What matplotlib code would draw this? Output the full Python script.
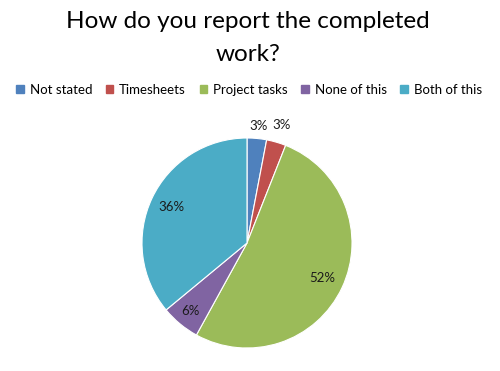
import matplotlib
matplotlib.use("Agg")
import matplotlib.pyplot as plt
import numpy as np

categories = ["Not stated", "Timesheets", "Project tasks", "None of this", "Both of this"]
values = [3, 3, 52, 6, 36]
colors = ["#4F81BD", "#C0504D", "#9BBB59", "#8064A2", "#4BACC6"]
title = "How do you report the completed\nwork?"

plt.rcParams['font.family'] = ['Lato', 'DejaVu Sans']

fig = plt.figure(figsize=(5.0, 3.71), dpi=100)
fig.patch.set_facecolor("white")

# pie axes: center at (247,243) px, radius 105 px
cx, cy, r = 247, 243, 105
W, H = 500, 371
ax = fig.add_axes([(cx - r) / W, 1 - (cy + r) / H, 2 * r / W, 2 * r / H])
wedges, texts = ax.pie(values, colors=colors, startangle=90, counterclock=False,
                       radius=1.0, wedgeprops=dict(linewidth=0.8, edgecolor="white"))
ax.set_xlim(-1, 1)
ax.set_ylim(-1, 1)
ax.set_aspect("equal")
ax.axis("off")

label_dist = [1.12, 1.17, 0.79, 0.84, 0.80]
for w, v, d in zip(wedges, values, label_dist):
    ang = np.deg2rad((w.theta1 + w.theta2) / 2)
    ax.text(d * np.cos(ang), d * np.sin(ang), f"{v}%", ha="center", va="center",
            fontsize=9.5, color="#1a1a1a", clip_on=False)

fig.text(0.496, 1 - 38 / H, title, ha="center", va="center", fontsize=17.5,
         color="#000000", linespacing=1.7)

handles = [plt.Rectangle((0, 0), 1, 1, color=c) for c in colors]
fig.legend(handles, categories, loc="center", bbox_to_anchor=(0.498, 1 - 90 / H),
           ncol=5, frameon=False, fontsize=9.5, handlelength=0.55, handleheight=0.55,
           handletextpad=0.45, columnspacing=1.05, borderaxespad=0)

fig.savefig("out.png", dpi=100, facecolor="white")
